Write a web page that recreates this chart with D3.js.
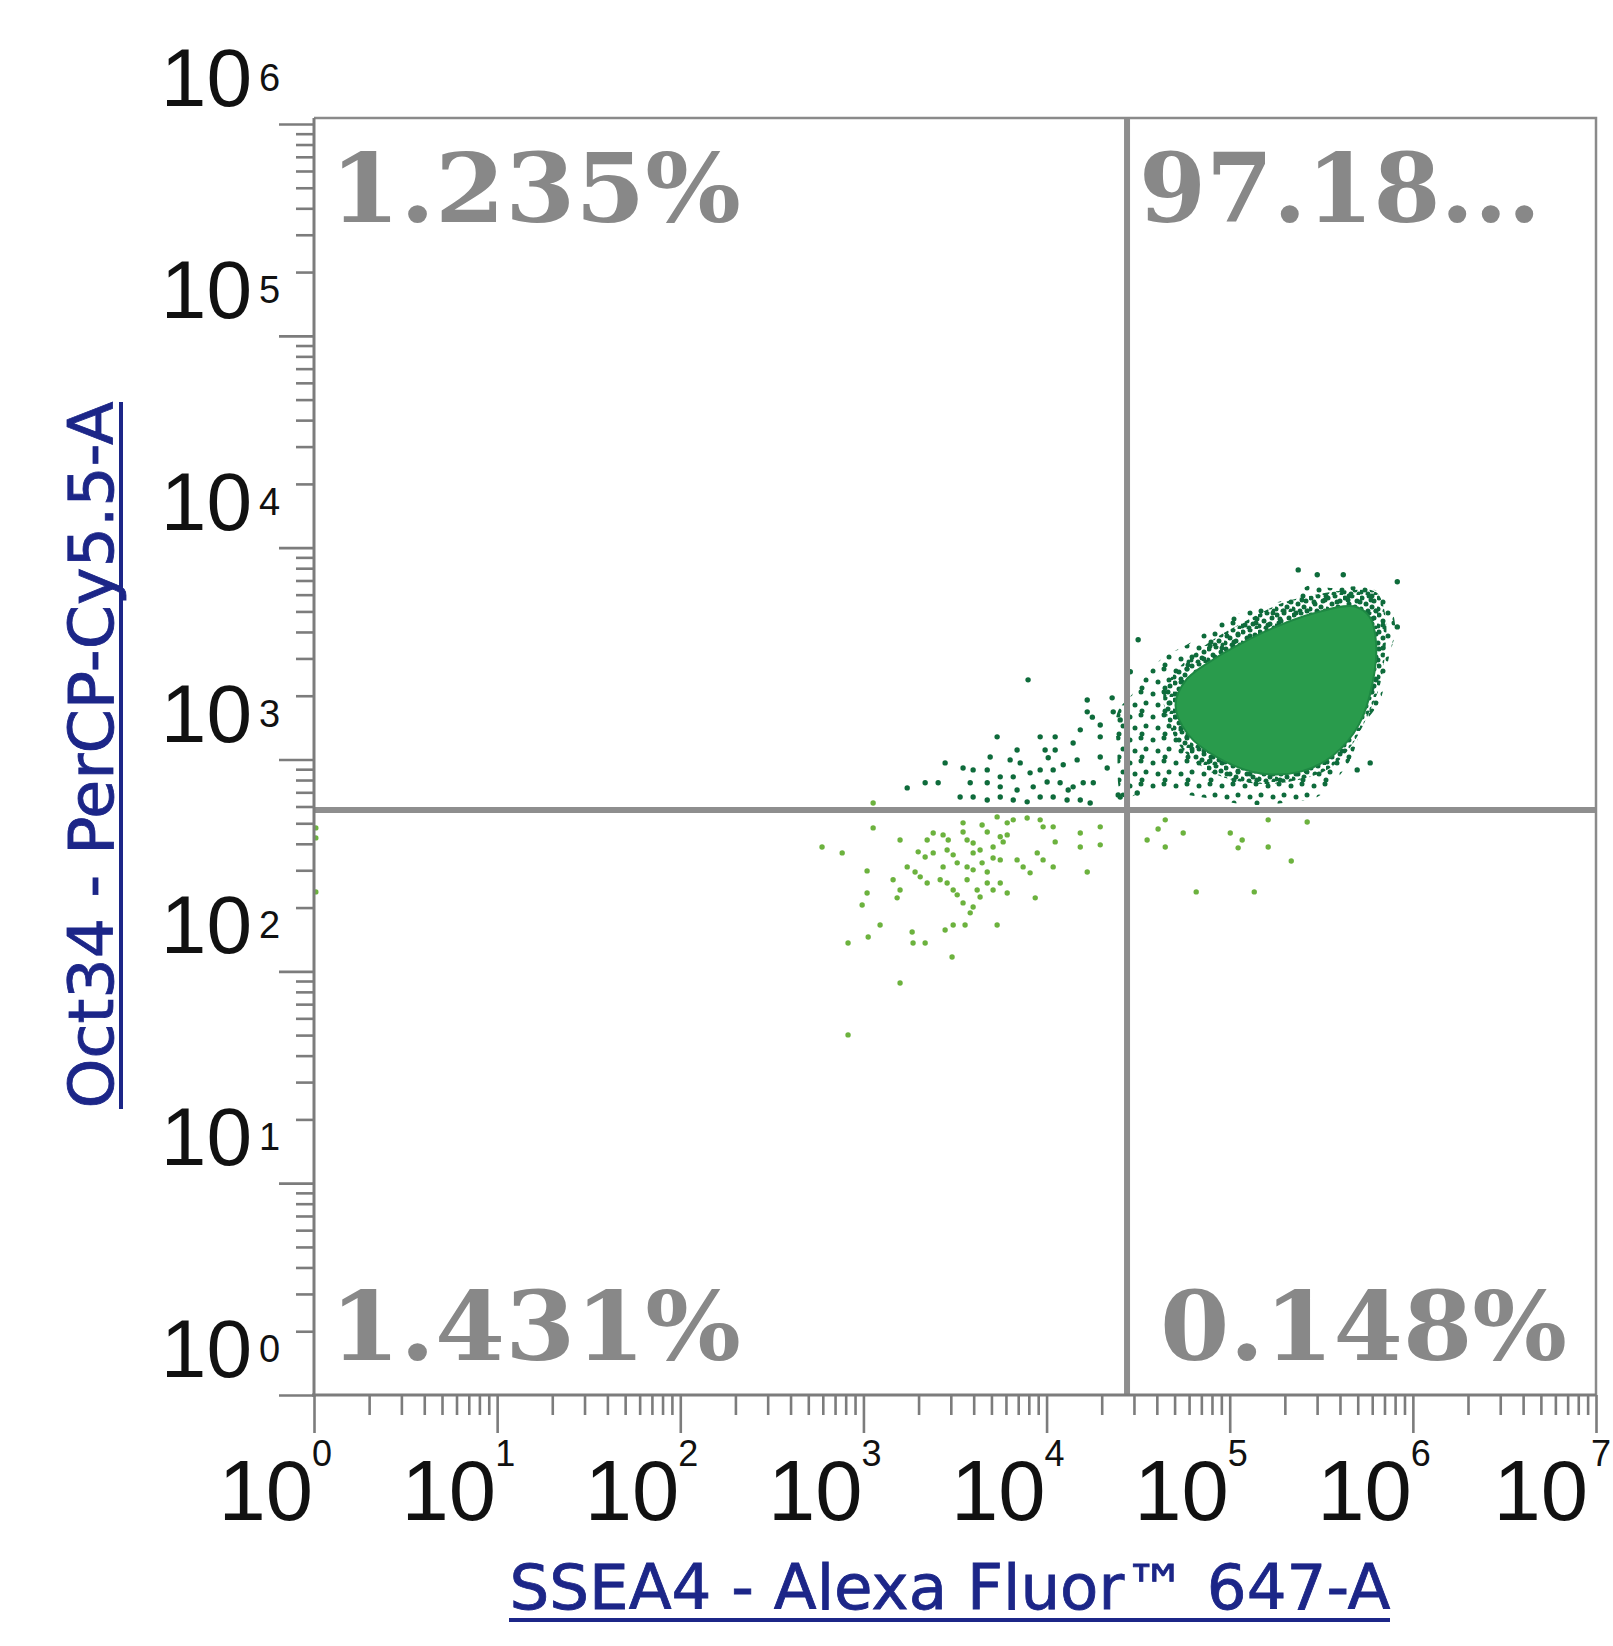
<!DOCTYPE html>
<html><head><meta charset="utf-8">
<script src="https://cdn.jsdelivr.net/npm/d3@7"></script>
<style>body{margin:0;background:#fff}svg{display:block}</style>
</head><body>
<svg id="c" width="1613" height="1646"></svg>
<script>
// ---------- data ----------
const xDecades = [0,1,2,3,4,5,6,7];
const yDecades = [0,1,2,3,4,5,6];
const minorMult = [2,3,4,5,6,7,8,9];
const xTitle = "SSEA4 - Alexa Fluor™ 647-A";
const yTitle = "Oct34 - PerCP-Cy5.5-A";
const quadLabels = ["1.235%", "97.18...", "1.431%", "0.148%"]; // UL, UR, LL, LR
const gateX = 2.75e4;
const gateY = 578;

// dense core outline (log10 values)
const coreLogX = [5.219,5.449,5.678,5.764,5.799,5.781,5.707,5.564,5.392,5.163,4.934,4.773,4.704,4.761,4.934,5.077];
const coreLogY = [3.614,3.688,3.723,3.673,3.554,3.366,3.167,3.019,2.944,2.935,3.009,3.118,3.256,3.375,3.485,3.554];
// denser halo around the core (log10 values)
const haloLogX = [4.64,4.72,4.90,5.10,5.29,5.48,5.66,5.80,5.85,5.85,5.82,5.76,5.66,5.53,5.29,5.10,4.90,4.74,4.66];
const haloLogY = [3.32,3.43,3.56,3.66,3.74,3.78,3.80,3.79,3.68,3.52,3.35,3.22,3.06,2.95,2.89,2.89,2.94,3.05,3.19];
// sparse speckled fringe outline (log10 values)
const fringeLogX = [4.386,4.473,4.620,4.784,4.964,5.112,5.330,5.440,5.549,5.729,5.849,5.904,5.866,5.822,5.724,5.658,5.565,5.478,5.292,5.112,4.839,4.566,4.418,4.386];
const fringeLogY = [3.220,3.314,3.470,3.551,3.659,3.706,3.763,3.824,3.810,3.815,3.768,3.626,3.470,3.281,3.154,2.998,2.890,2.823,2.795,2.786,2.823,2.856,2.823,3.045];

// sparse dark-green events (log10 values)
const darkLogX = [3.899,4.222,4.222,4.364,4.402,4.184,4.293,4.293,3.730,3.965,4.047,4.145,3.692,3.839,3.801,3.856,3.992,4.047,4.009,4.293,4.331,3.446,3.544,3.599,3.676,3.747,3.818,3.910,3.965,4.036,4.091,4.167,3.239,3.337,3.408,3.583,3.676,3.747,3.839,3.927,4.003,4.074,4.145,4.200,4.255,3.528,3.599,3.676,3.747,3.818,3.894,3.965,4.036,4.112,4.184,4.238,4.391,4.250,4.118,4.358,4.402,4.457,4.495,4.500,5.374,5.478,5.620,5.915,5.915,5.767,5.696];
const darkLogY = [3.376,3.281,3.225,3.225,3.187,3.140,3.163,3.107,3.107,3.107,3.107,3.078,3.012,3.045,2.998,2.984,3.045,3.045,3.008,3.012,2.960,2.984,2.960,2.951,2.951,2.918,2.918,2.937,2.951,2.951,2.975,2.998,2.866,2.890,2.890,2.890,2.890,2.871,2.856,2.871,2.894,2.890,2.871,2.890,2.890,2.823,2.823,2.809,2.823,2.809,2.800,2.823,2.823,2.809,2.809,2.795,2.833,3.200,2.856,3.291,2.823,3.414,2.842,3.565,3.895,3.872,3.872,3.839,3.626,2.984,2.951];

// sparse light-green events (log10 values)
const lightLogX = [3.053,3.053,2.774,2.884,3.200,3.348,3.381,3.435,3.463,3.544,3.544,3.648,3.676,3.730,3.785,3.818,3.894,3.965,3.981,4.036,3.747,3.785,3.708,3.763,3.566,3.599,3.637,3.599,3.457,3.490,3.299,3.337,3.381,3.239,3.282,3.310,3.435,3.512,3.566,3.599,3.648,3.676,3.708,3.747,3.839,3.872,3.910,3.949,3.981,4.036,3.162,3.200,3.184,3.348,3.419,3.457,3.490,3.512,3.566,3.621,3.637,3.676,3.708,3.747,3.785,3.938,3.020,2.993,3.544,3.599,3.583,3.091,3.026,2.916,3.266,3.271,3.337,3.446,3.490,3.555,3.730,3.484,3.200,2.916,3.020,4.184,4.293,4.293,4.184,4.222,4.047,4.648,4.746,5.003,5.068,5.210,5.423,4.549,4.648,5.210,4.817,5.134,5.336,5.046,4.609,0.01,0.01,0.01];
const lightLogY = [2.795,2.677,2.587,2.559,2.620,2.620,2.653,2.644,2.620,2.701,2.658,2.691,2.658,2.729,2.701,2.715,2.724,2.715,2.682,2.682,2.635,2.644,2.587,2.611,2.620,2.606,2.573,2.559,2.573,2.550,2.564,2.540,2.559,2.493,2.469,2.446,2.493,2.512,2.493,2.479,2.512,2.469,2.535,2.526,2.526,2.493,2.465,2.559,2.526,2.493,2.432,2.384,2.347,2.417,2.432,2.417,2.384,2.361,2.432,2.384,2.351,2.417,2.384,2.417,2.370,2.347,2.370,2.313,2.323,2.304,2.276,2.219,2.162,2.134,2.186,2.134,2.134,2.195,2.219,2.219,2.219,2.068,1.945,1.700,2.474,2.653,2.682,2.597,2.587,2.469,2.611,2.715,2.653,2.653,2.620,2.715,2.705,2.620,2.587,2.587,2.375,2.375,2.521,2.583,2.672,2.677,2.630,2.375];

// ---------- layout ----------
const L = 314, R = 1596, B = 1395, T = 118, yTopTick = 124;
const svg = d3.select("#c");
svg.append("rect").attr("width",1613).attr("height",1646).attr("fill","#fff");

const x = d3.scaleLog().domain([1,1e7]).range([L,R]);
const y = d3.scaleLog().domain([1,1e6]).range([B,yTopTick]);

const defs = svg.append("defs");
function makePattern(id, size, spots){
  const p = defs.append("pattern").attr("id",id).attr("patternUnits","userSpaceOnUse")
    .attr("width",size).attr("height",size);
  spots.forEach(s=>p.append("circle").attr("cx",s[0]).attr("cy",s[1]).attr("r",2.5).attr("fill","#0e6b3b"));
}
makePattern("sparse", 23, [[3,4],[14,2],[19,13],[8,15],[15,21]]);
makePattern("dense", 17, [[2,3],[9,1],[14,6],[6,9],[12,12],[1,14],[16,16],[8,16]]);
defs.append("clipPath").attr("id","plotclip").append("rect")
  .attr("x",L).attr("y",T).attr("width",R-L).attr("height",B-T);

const pts = (lx,ly)=>lx.map((v,i)=>[x(Math.pow(10,v)), y(Math.pow(10,ly[i]))]);
const closed = d3.line().curve(d3.curveCatmullRomClosed.alpha(0.5));

const plot = svg.append("g").attr("clip-path","url(#plotclip)");
plot.append("path").attr("d", closed(pts(fringeLogX,fringeLogY))).attr("fill","url(#sparse)");
plot.append("path").attr("d", closed(pts(haloLogX,haloLogY))).attr("fill","url(#dense)");
plot.append("path").attr("d", closed(pts(coreLogX,coreLogY))).attr("fill","#299b4c")
  .attr("stroke","#1e8843").attr("stroke-width",2);

plot.append("g").selectAll("circle").data(pts(darkLogX,darkLogY)).join("circle")
  .attr("cx",d=>d[0]).attr("cy",d=>d[1]).attr("r",2.7).attr("fill","#0e6b3b");
plot.append("g").selectAll("circle").data(pts(lightLogX,lightLogY)).join("circle")
  .attr("cx",d=>d[0]).attr("cy",d=>d[1]).attr("r",2.7).attr("fill","#6cb23e");

// quadrant gate lines
const gateCol = "#8e8e8e";
svg.append("line").attr("x1",x(gateX)).attr("x2",x(gateX)).attr("y1",T).attr("y2",B)
  .attr("stroke",gateCol).attr("stroke-width",6);
svg.append("line").attr("x1",L).attr("x2",R).attr("y1",y(gateY)).attr("y2",y(gateY))
  .attr("stroke",gateCol).attr("stroke-width",6);

// frame
const axCol = "#7c7c7c";
svg.append("path").attr("d",`M${L},${T}H${R}V${B}`).attr("fill","none")
  .attr("stroke","#8a8a8a").attr("stroke-width",2.5);

// ticks via d3 axes
const xMajors = xDecades.map(d=>Math.pow(10,d));
const xMinors = xDecades.slice(0,-1).flatMap(d=>minorMult.map(m=>m*Math.pow(10,d)));
const yMajors = yDecades.map(d=>Math.pow(10,d));
const yMinors = yDecades.slice(0,-1).flatMap(d=>minorMult.map(m=>m*Math.pow(10,d)));

function styleAxis(g){ g.select(".domain").remove(); g.selectAll("line").attr("stroke",axCol).attr("stroke-width",2.6); g.selectAll("text").remove(); }
svg.append("g").attr("transform",`translate(0,${B})`)
  .call(d3.axisBottom(x).tickValues(xMinors).tickSize(20).tickFormat("")).call(styleAxis);
svg.append("g").attr("transform",`translate(0,${B})`)
  .call(d3.axisBottom(x).tickValues(xMajors).tickSize(38).tickFormat("")).call(styleAxis);
svg.append("g").attr("transform",`translate(${L},0)`)
  .call(d3.axisLeft(y).tickValues(yMinors).tickSize(18).tickFormat("")).call(styleAxis);
svg.append("g").attr("transform",`translate(${L},0)`)
  .call(d3.axisLeft(y).tickValues(yMajors).tickSize(35).tickFormat("")).call(styleAxis);

// axis lines
svg.append("line").attr("x1",L).attr("x2",L).attr("y1",T).attr("y2",B+2).attr("stroke",axCol).attr("stroke-width",3);
svg.append("line").attr("x1",L-2).attr("x2",R).attr("y1",B).attr("y2",B).attr("stroke",axCol).attr("stroke-width",3);

// tick labels
const tickFont = "'Liberation Sans', Arial, sans-serif";
const xl = svg.append("g").attr("font-family",tickFont).attr("fill","#111");
xDecades.forEach(d=>{
  const px = x(Math.pow(10,d));
  const ex = Math.min(px-2, 1591);
  const tx = ex < px-2 ? ex-3 : px-1;
  xl.append("text").attr("x",tx).attr("y",1520).attr("text-anchor","end").attr("font-size",85).text("10");
  xl.append("text").attr("x",ex).attr("y",1466).attr("font-size",36).text(d);
});
const yl = svg.append("g").attr("font-family",tickFont).attr("fill","#111");
yDecades.forEach(d=>{
  const py = y(Math.pow(10,d));
  yl.append("text").attr("x",252).attr("y",py-18).attr("text-anchor","end").attr("font-size",82).text("10");
  yl.append("text").attr("x",259).attr("y",py-33).attr("font-size",38).text(d);
});

// quadrant labels
const ql = svg.append("g").attr("font-family","'DejaVu Serif', serif").attr("font-weight","bold")
  .attr("font-size",96).attr("fill","#888888");
const qPos = [[L+16,222],[x(gateX)+12,222],[L+16,1360],[x(gateX)+33,1360]];
const qLen = [411, 402, 411, 407];
quadLabels.forEach((t,i)=>ql.append("text").attr("x",qPos[i][0]).attr("y",qPos[i][1])
  .attr("textLength",qLen[i]).attr("lengthAdjust","spacingAndGlyphs").text(t));

// axis titles
const titleCol = "#1c2688";
const titleFont = "'DejaVu Sans', Verdana, sans-serif";
svg.append("text").attr("x",950).attr("y",1609).attr("text-anchor","middle")
  .attr("font-family",titleFont).attr("font-size",62).attr("fill",titleCol)
  .attr("stroke",titleCol).attr("stroke-width",0.8)
  .attr("textLength",881).attr("lengthAdjust","spacingAndGlyphs").text(xTitle);
svg.append("rect").attr("x",509).attr("y",1618).attr("width",881).attr("height",4).attr("fill",titleCol);

const yt = svg.append("g").attr("transform","rotate(-90)");
yt.append("text").attr("x",-755).attr("y",113).attr("text-anchor","middle")
  .attr("font-family",titleFont).attr("font-size",62).attr("fill",titleCol)
  .attr("stroke",titleCol).attr("stroke-width",0.8)
  .attr("textLength",707).attr("lengthAdjust","spacingAndGlyphs").text(yTitle);
yt.append("rect").attr("x",-1109).attr("y",119).attr("width",707).attr("height",4).attr("fill",titleCol);
</script>
</body></html>
